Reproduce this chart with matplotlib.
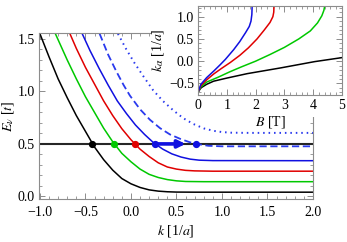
import matplotlib
matplotlib.use("Agg")
import matplotlib.pyplot as plt
from matplotlib.ticker import MultipleLocator
from matplotlib.patches import Rectangle

plt.rcParams['font.family'] = ['Liberation Serif', 'DejaVu Serif']
plt.rcParams['mathtext.fontset'] = 'stix'
plt.rcParams['font.size'] = 10

# main panel: E_nu(k)
black_k = [-1.0, -0.9, -0.8, -0.7, -0.6, -0.5, -0.4, -0.3, -0.2, -0.1, 0.0, 0.1, 0.2, 0.3, 0.4, 0.5, 0.7, 2.0]
black_E = [1.55, 1.33, 1.12, 0.94, 0.77, 0.62, 0.47, 0.35, 0.25, 0.17, 0.12, 0.085, 0.062, 0.05, 0.044, 0.041, 0.04, 0.04]
green_k = [-0.83, -0.7, -0.6, -0.5, -0.4, -0.3, -0.2, -0.1, 0.0, 0.1, 0.2, 0.3, 0.4, 0.5, 0.6, 0.8, 2.0]
green_E = [1.55, 1.30, 1.12, 0.95, 0.80, 0.65, 0.52, 0.41, 0.33, 0.26, 0.21, 0.18, 0.16, 0.148, 0.142, 0.14, 0.14]
red_k = [-0.67, -0.6, -0.5, -0.4, -0.3, -0.2, -0.1, 0.0, 0.1, 0.2, 0.3, 0.4, 0.5, 0.6, 0.7, 0.9, 2.0]
red_E = [1.55, 1.41, 1.23, 1.07, 0.91, 0.77, 0.645, 0.54, 0.45, 0.38, 0.32, 0.28, 0.26, 0.248, 0.243, 0.24, 0.24]
blue_k = [-0.535, -0.45, -0.35, -0.25, -0.15, -0.05, 0.05, 0.15, 0.25, 0.35, 0.45, 0.55, 0.65, 0.75, 0.9, 2.0]
blue_E = [1.55, 1.39, 1.22, 1.06, 0.91, 0.79, 0.68, 0.59, 0.51, 0.45, 0.405, 0.375, 0.355, 0.345, 0.341, 0.34]
dash_k = [-0.344, -0.25, -0.16, -0.08, -0.011, 0.1, 0.209, 0.32, 0.429, 0.55, 0.65, 0.72, 0.85, 1.0, 2.0]
dash_E = [1.55, 1.35, 1.19, 1.06, 0.96, 0.83, 0.73, 0.65, 0.59, 0.545, 0.515, 0.50, 0.482, 0.477, 0.477]
dot_k = [-0.143, -0.05, 0.04, 0.14, 0.245, 0.35, 0.465, 0.575, 0.685, 0.8, 0.905, 1.0, 1.1, 1.3, 2.0]
dot_E = [1.55, 1.40, 1.27, 1.14, 1.01, 0.91, 0.82, 0.745, 0.69, 0.648, 0.625, 0.613, 0.607, 0.605, 0.605]

E_fermi = 0.5
cross_k = [-0.425, -0.187, 0.044, 0.262, 0.72]
cross_col = ['black', '#00c800', '#e00000', '#1010e0', '#1010e0']
arrow_start = 0.30
arrow_end = 0.60

# inset: k_alpha(B)
ib_black_B = [0, 0.1, 0.3, 0.54, 1.0, 1.71, 2.88, 4.05, 5.0]
ib_black_k = [-0.70, -0.60, -0.52, -0.45, -0.38, -0.28, -0.15, -0.01, 0.08]
ib_green_B = [0, 0.1, 0.3, 0.7, 1.1, 1.5, 2.0, 2.5, 3.0, 3.5, 3.9, 4.15, 4.3, 4.37, 4.4]
ib_green_k = [-0.70, -0.58, -0.47, -0.36, -0.24, -0.13, 0.0, 0.15, 0.31, 0.50, 0.68, 0.86, 1.02, 1.14, 1.24]
ib_red_B = [0, 0.1, 0.3, 0.54, 0.8, 1.12, 1.45, 1.75, 2.05, 2.3, 2.5, 2.6, 2.63, 2.64]
ib_red_k = [-0.70, -0.55, -0.42, -0.29, -0.17, -0.03, 0.13, 0.30, 0.50, 0.70, 0.87, 1.0, 1.1, 1.24]
ib_blue_B = [0, 0.1, 0.3, 0.55, 0.77, 0.95, 1.24, 1.45, 1.65, 1.78, 1.84, 1.87, 1.88]
ib_blue_k = [-0.70, -0.52, -0.37, -0.22, -0.08, 0.04, 0.26, 0.44, 0.64, 0.78, 0.90, 1.05, 1.24]

W, H = 347, 242
fig = plt.figure(figsize=(W / 100, H / 100), dpi=100)
fig.patch.set_facecolor('white')


def style(a):
    for s in a.spines.values():
        s.set_color('0.55')
        s.set_linewidth(0.8)
    a.tick_params(which='both', direction='in', top=True, right=True, color='0.55', labelcolor='black')
    a.tick_params(which='major', length=4, width=0.7)
    a.tick_params(which='minor', length=2, width=0.6)


ax = fig.add_axes([39 / W, 1 - 199 / H, 274 / W, 166 / H], zorder=0)
style(ax)
lw = 1.1
ax.axhline(E_fermi, color='0.15', lw=1.5, zorder=2)
ax.plot(black_k, black_E, color='black', lw=lw)
ax.plot(green_k, green_E, color='#00c800', lw=lw)
ax.plot(red_k, red_E, color='#e00000', lw=lw)
ax.plot(blue_k, blue_E, color='#1010e0', lw=lw)
ax.plot(dash_k, dash_E, color='#2a3aee', lw=1.3, dashes=(4, 2))
ax.plot(dot_k, dot_E, color='#2a3aee', lw=1.4, dashes=(0.8, 2.0))
for kk, cc in zip(cross_k, cross_col):
    ax.plot(kk, E_fermi, 'o', color=cc, ms=4.2, zorder=4)
ax.annotate('', xy=(arrow_end, E_fermi), xytext=(arrow_start, E_fermi),
            arrowprops=dict(arrowstyle='-|>', color='#1010e0', lw=2.6, mutation_scale=11,
                            shrinkA=0, shrinkB=0), zorder=5)
ax.set_xlim(-1.01, 2.0)
ax.set_ylim(-0.025, 1.557)
ax.xaxis.set_major_locator(MultipleLocator(0.5))
ax.xaxis.set_minor_locator(MultipleLocator(0.1))
ax.yaxis.set_major_locator(MultipleLocator(0.5))
ax.yaxis.set_minor_locator(MultipleLocator(0.1))
ax.tick_params(axis='x', which='major', pad=5)
ax.tick_params(axis='y', which='major', pad=3)
ax.set_xlabel(r'$k$ [1/$a$]', labelpad=3)
ax.set_ylabel(r'$E_\nu$ [$t$]', labelpad=1)

# white background behind the inset labels
fig.add_artist(Rectangle((152 / W, 1 - 88 / H), 46 / W, 88 / H, transform=fig.transFigure,
                         fc='white', ec='none', zorder=1))
fig.add_artist(Rectangle((195 / W, 1 - 117 / H), 152 / W, 27 / H, transform=fig.transFigure,
                         fc='white', ec='none', zorder=1))

ins = fig.add_axes([198 / W, 1 - 95 / H, 144 / W, 89 / H], zorder=2)
ins.set_facecolor('white')
style(ins)
ins.plot(ib_black_B, ib_black_k, color='black', lw=lw)
ins.plot(ib_green_B, ib_green_k, color='#00c800', lw=lw)
ins.plot(ib_red_B, ib_red_k, color='#e00000', lw=lw)
ins.plot(ib_blue_B, ib_blue_k, color='#1010e0', lw=lw)
ins.set_xlim(0, 5)
ins.set_ylim(-0.76, 1.24)
ins.xaxis.set_major_locator(MultipleLocator(1))
ins.xaxis.set_minor_locator(MultipleLocator(0.2))
ins.yaxis.set_major_locator(MultipleLocator(0.5))
ins.yaxis.set_minor_locator(MultipleLocator(0.1))
ins.tick_params(axis='both', which='major', pad=3)
ins.set_xlabel(r'$B$ [T]', labelpad=1)
ins.set_ylabel(r'$k_\alpha$ [1/$a$]', labelpad=2)

fig.savefig('out.png', dpi=100)
